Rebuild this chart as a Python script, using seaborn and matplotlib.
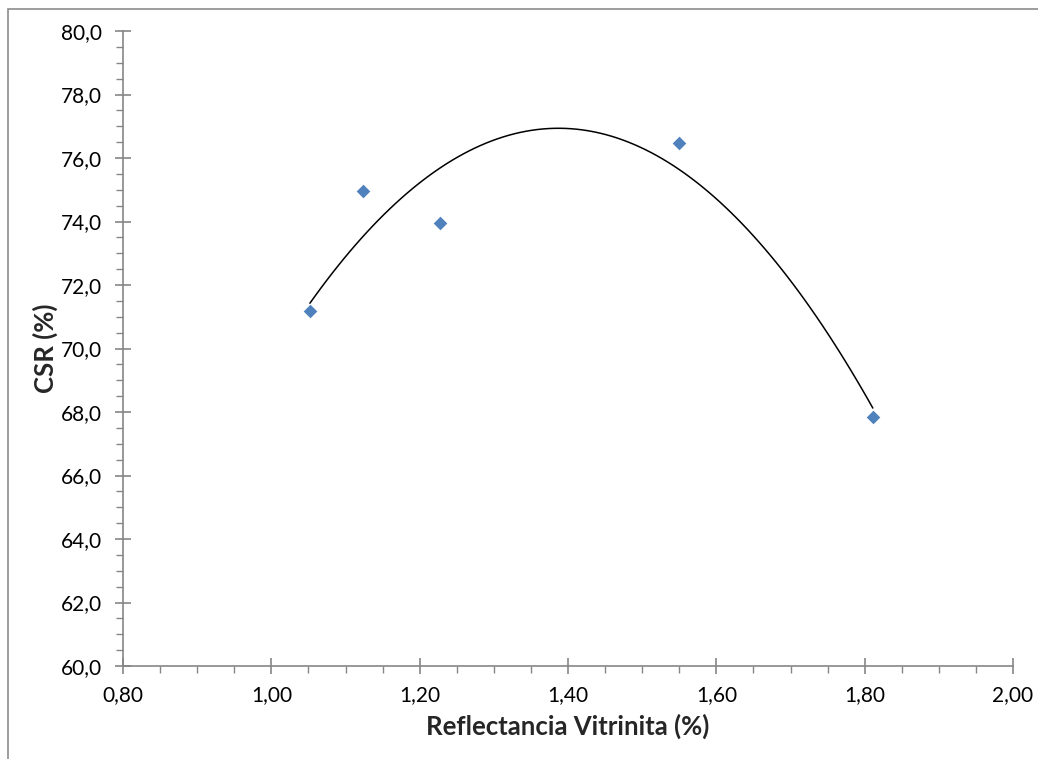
import numpy as np
import pandas as pd
import matplotlib
matplotlib.use("Agg")
import matplotlib.pyplot as plt
from matplotlib.patches import Rectangle
from matplotlib.ticker import FixedLocator, MultipleLocator
import seaborn as sns

# Vitrinite reflectance vs coke strength after reaction
reflectancia = [1.052, 1.124, 1.228, 1.550, 1.811]
csr = [71.18, 74.97, 73.96, 76.46, 67.85]

x_ticks = [0.80, 1.00, 1.20, 1.40, 1.60, 1.80, 2.00]
x_tick_labels = ["0,80", "1,00", "1,20", "1,40", "1,60", "1,80", "2,00"]
y_ticks = [60, 62, 64, 66, 68, 70, 72, 74, 76, 78, 80]
y_tick_labels = ["60,0", "62,0", "64,0", "66,0", "68,0", "70,0", "72,0",
                 "74,0", "76,0", "78,0", "80,0"]

df = pd.DataFrame({"reflectancia": reflectancia, "csr": csr})

sns.set_theme(style="white")
plt.rcParams["font.family"] = ["Lato", "DejaVu Sans"]

fig = plt.figure(figsize=(10.38, 7.59), dpi=100)
ax = fig.add_axes([123 / 1038, 1 - 666 / 759, 890 / 1038, 635 / 759])

# Outer chart frame
fig.patches.append(Rectangle((8 / 1038, -0.05), 1.2, 1 - 9 / 759 + 0.05,
                             transform=fig.transFigure, fill=False,
                             edgecolor="#8c8c8c", linewidth=1.2, zorder=0))

sns.regplot(data=df, x="reflectancia", y="csr", order=2, ci=None,
            truncate=True, ax=ax, marker="D",
            scatter_kws=dict(s=48, color="#4F81BD", linewidths=0, zorder=3,
                             alpha=1),
            line_kws=dict(color="black", linewidth=1.1, zorder=2))

ax.set_xlim(0.80, 2.00)
ax.set_ylim(60, 80)
ax.xaxis.set_major_locator(FixedLocator(x_ticks))
ax.set_xticklabels(x_tick_labels)
ax.yaxis.set_major_locator(FixedLocator(y_ticks))
ax.set_yticklabels(y_tick_labels)
ax.xaxis.set_minor_locator(MultipleLocator(0.05))
ax.yaxis.set_minor_locator(MultipleLocator(0.5))

axis_gray = "#868686"
for side in ["top", "right"]:
    ax.spines[side].set_visible(False)
for side in ["left", "bottom"]:
    ax.spines[side].set_color(axis_gray)
    ax.spines[side].set_linewidth(1.2)

ax.tick_params(axis="both", which="major", direction="inout", length=12,
               width=1.2, color=axis_gray, labelsize=15, labelcolor="black",
               bottom=True, left=True)
ax.tick_params(axis="both", which="minor", direction="out", length=5,
               width=1.0, color=axis_gray, bottom=True, left=True)
ax.tick_params(axis="x", which="major", pad=8)
ax.tick_params(axis="y", which="major", pad=9)

ax.set_xlabel("Reflectancia Vitrinita (%)", fontsize=18.5, fontweight="bold",
              labelpad=6)
ax.set_ylabel("CSR (%)", fontsize=18.5, fontweight="bold", labelpad=2)
ax.grid(False)

fig.savefig("out.png", dpi=100)
